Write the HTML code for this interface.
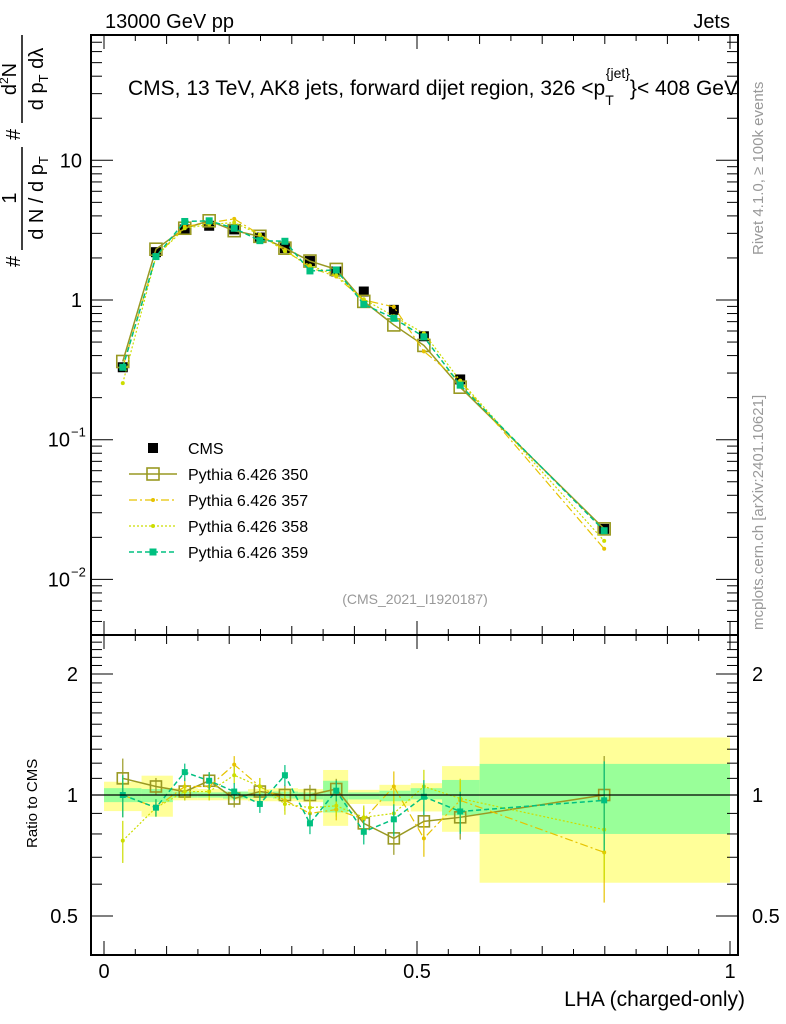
<!DOCTYPE html>
<html><head><meta charset="utf-8"><style>
html,body{margin:0;padding:0;background:#fff;}
svg{display:block;font-family:"Liberation Sans",sans-serif;}
</style></head><body>
<svg id="chart" width="786" height="1024" viewBox="0 0 786 1024" xmlns="http://www.w3.org/2000/svg">
<g id="bands"></g>
<g id="marks"></g>
<g id="axes"></g>
<text x="105" y="28" font-size="20">13000 GeV pp</text>
<text x="730" y="28" font-size="20" text-anchor="end">Jets</text>
<text x="128" y="95" font-size="21" textLength="610">CMS, 13 TeV, AK8 jets, forward dijet region, 326 &lt;p<tspan font-size="14" dy="10">T</tspan><tspan font-size="14" dy="-27" dx="-8">{jet}</tspan><tspan dy="17">}&lt; 408 GeV</tspan></text>
<text transform="translate(763,255) rotate(-90)" font-size="15" fill="#999">Rivet 4.1.0, ≥ 100k events</text>
<text transform="translate(763,630) rotate(-90)" font-size="15" fill="#999">mcplots.cern.ch [arXiv:2401.10621]</text>
<text x="415" y="604" font-size="14" fill="#999" text-anchor="middle">(CMS_2021_I1920187)</text>
<g font-size="20" transform="rotate(-90)">
<text x="-267" y="20">#</text>
<text x="-198" y="16" text-anchor="middle">1</text>
<line x1="-250" y1="22" x2="-147" y2="22" stroke="#000" stroke-width="1.5"/>
<text x="-198" y="43" text-anchor="middle">d N / d p<tspan font-size="13" dy="5">T</tspan></text>
<text x="-140" y="20">#</text>
<text x="-79" y="16" text-anchor="middle">d<tspan font-size="12" dy="-8">2</tspan><tspan dy="8">N</tspan></text>
<line x1="-123" y1="22" x2="-35" y2="22" stroke="#000" stroke-width="1.5"/>
<text x="-79" y="43" text-anchor="middle">d p<tspan font-size="13" dy="5">T</tspan><tspan dy="-5"> dλ</tspan></text>
</g>
<text transform="translate(37,848) rotate(-90)" font-size="15">Ratio to CMS</text>
<text x="745" y="1006" font-size="21" text-anchor="end">LHA (charged-only)</text>
<g id="legend"></g>
</svg>
<script>
const pointX=[0.030,0.083,0.129,0.168,0.208,0.249,0.289,0.329,0.371,0.415,0.463,0.511,0.569,0.799];
const binEdges=[0,0.06,0.11,0.15,0.19,0.23,0.27,0.31,0.35,0.39,0.44,0.49,0.54,0.60,1.0];
const cmsValues=[0.33,2.2,3.2,3.4,3.2,2.8,2.35,1.9,1.6,1.15,0.85,0.55,0.27,0.023];
const ratio350=[1.10,1.05,1.02,1.085,0.98,1.02,1.0,1.0,1.035,0.85,0.78,0.86,0.88,1.0];
const ratio357=[1.0,0.93,1.05,1.05,1.19,1.05,0.97,0.90,0.92,0.87,1.05,0.78,0.97,0.72];
const ratio358=[0.77,0.93,1.02,1.02,1.12,1.05,0.95,0.93,0.94,0.88,0.90,1.05,0.98,0.82];
const ratio359=[1.0,0.93,1.14,1.085,1.02,0.95,1.12,0.85,1.025,0.81,0.87,0.99,0.91,0.97];
const ratioErr=[0.12,0.05,0.05,0.05,0.05,0.05,0.06,0.06,0.06,0.07,0.09,0.1,0.12,0.25];
const yellowHi=[1.079,1.117,1.04,1.035,1.02,1.035,1.04,1.035,1.154,1.03,1.06,1.07,1.18,1.39];
const yellowLo=[0.912,0.883,0.97,0.97,0.97,0.965,0.965,0.96,0.838,0.95,0.94,0.91,0.81,0.605];
const greenHi=[1.04,1.035,1.02,1.015,1.02,1.015,1.02,1.015,1.085,1.015,1.025,1.04,1.09,1.195];
const greenLo=[0.96,0.96,0.985,0.985,0.98,0.985,0.98,0.975,0.905,0.975,0.965,0.975,0.89,0.80];
const mainTickLabels=["10","1","10","10"];
const ratioTickLabels=["2","1","0.5"];
const xTickLabels=["0","0.5","1"];

const NS="http://www.w3.org/2000/svg";
const L=91,R=738,MT=35,MB=635,RB=955;
const X=v=>104+626*v;
const YM=v=>300-139.7*Math.log10(v);
const YR=v=>795-402*Math.log10(v);
function mk(tag,attrs,parent){const e=document.createElementNS(NS,tag);for(const k in attrs)e.setAttribute(k,attrs[k]);parent.appendChild(e);return e;}
const bands=document.getElementById('bands'),marks=document.getElementById('marks'),axes=document.getElementById('axes'),legend=document.getElementById('legend');

for(let i=0;i<cmsValues.length;i++){
 const y=mk('rect',{x:X(binEdges[i]),y:YR(yellowHi[i]),width:X(binEdges[i+1])-X(binEdges[i]),height:YR(yellowLo[i])-YR(yellowHi[i]),fill:'#ffff99'},bands);
 
 
 const g=mk('rect',{x:X(binEdges[i]),y:YR(greenHi[i]),width:X(binEdges[i+1])-X(binEdges[i]),height:YR(greenLo[i])-YR(greenHi[i]),fill:'#99ff99'},bands);
 
 
}

const series=[
 {name:'350',r:ratio350,c:'#999922',dash:'',m:'open',w:1.5},
 {name:'357',r:ratio357,c:'#e6c300',dash:'8,3,2,3',m:'tri',w:1.2},
 {name:'358',r:ratio358,c:'#ccdd00',dash:'2,2',m:'dot',w:1.2},
 {name:'359',r:ratio359,c:'#00c080',dash:'5,3',m:'sq',w:1.5}
];
function marker(kind,x,y,c,parent,big){
 let e;
 if(kind==='open'){const s=big?12:11;e=mk('rect',{x:x-s/2,y:y-s/2,width:s,height:s,fill:'none',stroke:c,'stroke-width':1.6},parent);}
 else if(kind==='sq'){const s=big?7:6;e=mk('rect',{x:x-s/2,y:y-s/2,width:s,height:s,fill:c},parent);}
 else if(kind==='cms'){e=mk('rect',{x:x-5,y:y-5,width:10,height:10,fill:'#000'},parent);}
 else{e=mk('circle',{cx:x,cy:y,r:2,fill:c},parent);}
 
 
}
cmsValues.forEach((v,i)=>{marker('cms',X(pointX[i]),YM(v),'#000',marks,true);});
series.forEach(s=>{
 const pm=s.r.map((r,i)=>X(pointX[i])+','+YM(cmsValues[i]*r)).join(' ');
 const pl=mk('polyline',{points:pm,fill:'none',stroke:s.c,'stroke-width':s.w,'stroke-dasharray':s.dash},marks);
 
 
 const pr=s.r.map((r,i)=>X(pointX[i])+','+YR(r)).join(' ');
 const rl=mk('polyline',{points:pr,fill:'none',stroke:s.c,'stroke-width':s.w,'stroke-dasharray':s.dash},marks);
 
 
 s.r.forEach((r,i)=>{
  const x=X(pointX[i]);
  const eb=mk('line',{x1:x,x2:x,y1:YR(r*(1+ratioErr[i])),y2:YR(r*(1-ratioErr[i])),stroke:s.c,'stroke-width':1.2},marks);
  
  
  marker(s.m,x,YM(cmsValues[i]*r),s.c,marks,true);
  marker(s.m,x,YR(r),s.c,marks,false);
 });
});
const ul=mk('line',{x1:L,x2:R,y1:YR(1),y2:YR(1),stroke:'#000','stroke-width':1.2},axes);


[[MT,MB],[MB,RB]].forEach(([t,b])=>{
 const f=mk('rect',{x:L,y:t,width:R-L,height:b-t,fill:'none',stroke:'#000','stroke-width':2},axes);
 
 
});
for(let k=0;k<=20;k++){
 const v=k*0.05,x=X(v),len=(k%10===0)?14:(k%2===0?9:6);
 [[MT,1],[MB,-1],[MB,1],[RB,-1]].forEach(([y0,d])=>{mk('line',{x1:x,x2:x,y1:y0,y2:y0+d*len,stroke:'#000','stroke-width':1},axes);});
}
xTickLabels.forEach((t,i)=>{
 const e=mk('text',{x:X(i*0.5),y:978,'font-size':20,'text-anchor':'middle'},axes);e.textContent=t;
 
 
});
for(let d=-3;d<=1;d++){for(let m=1;m<=9;m++){
 const v=m*Math.pow(10,d),y=YM(v);if(y<MT||y>MB)continue;
 const len=m===1?22:11;
 mk('line',{x1:L,x2:L+len,y1:y,y2:y,stroke:'#000','stroke-width':1},axes);
 mk('line',{x1:R,x2:R-len,y1:y,y2:y,stroke:'#000','stroke-width':1},axes);
}}
const mainDec=[1,0,-1,-2];
mainDec.forEach((d,i)=>{
 const y=YM(Math.pow(10,d));
 const e=mk('text',{x:d>=0?82:70,y:y+7,'font-size':20,'text-anchor':'end'},axes);e.textContent=mainTickLabels[i];
 
 
 if(d<0){const s=mk('text',{x:71,y:y-3,'font-size':13},axes);s.textContent='−'+(-d);
  
  }
});
for(let k=4;k<=25;k++){
 const v=k/10,y=YR(v);if(y<MB||y>RB)continue;
 const maj=(k===5||k===10||k===20),len=maj?22:11;
 mk('line',{x1:L,x2:L+len,y1:y,y2:y,stroke:'#000','stroke-width':1},axes);
 mk('line',{x1:R,x2:R-len,y1:y,y2:y,stroke:'#000','stroke-width':1},axes);
}
[2,1,0.5].forEach((v,i)=>{
 const y=YR(v)+7;
 const a=mk('text',{x:78,y:y,'font-size':20,'text-anchor':'end'},axes);a.textContent=ratioTickLabels[i];
 
 
 const b=mk('text',{x:752,y:y,'font-size':20},axes);b.textContent=ratioTickLabels[i];
 
 
});
const legNames=['CMS','Pythia 6.426 350','Pythia 6.426 357','Pythia 6.426 358','Pythia 6.426 359'];
legNames.forEach((n,i)=>{
 const y=448+i*26;
 const g=mk('g',{},legend);
 
 
 if(i===0){marker('cms',153,y,'#000',g,true);}
 else{const s=series[i-1];
  mk('line',{x1:129,x2:177,y1:y,y2:y,stroke:s.c,'stroke-width':s.w,'stroke-dasharray':s.dash},g);
  marker(s.m,153,y,s.c,g,true);}
 const t=mk('text',{x:188,y:y+6,'font-size':16},g);t.textContent=n;
});
</script>
</body></html>
